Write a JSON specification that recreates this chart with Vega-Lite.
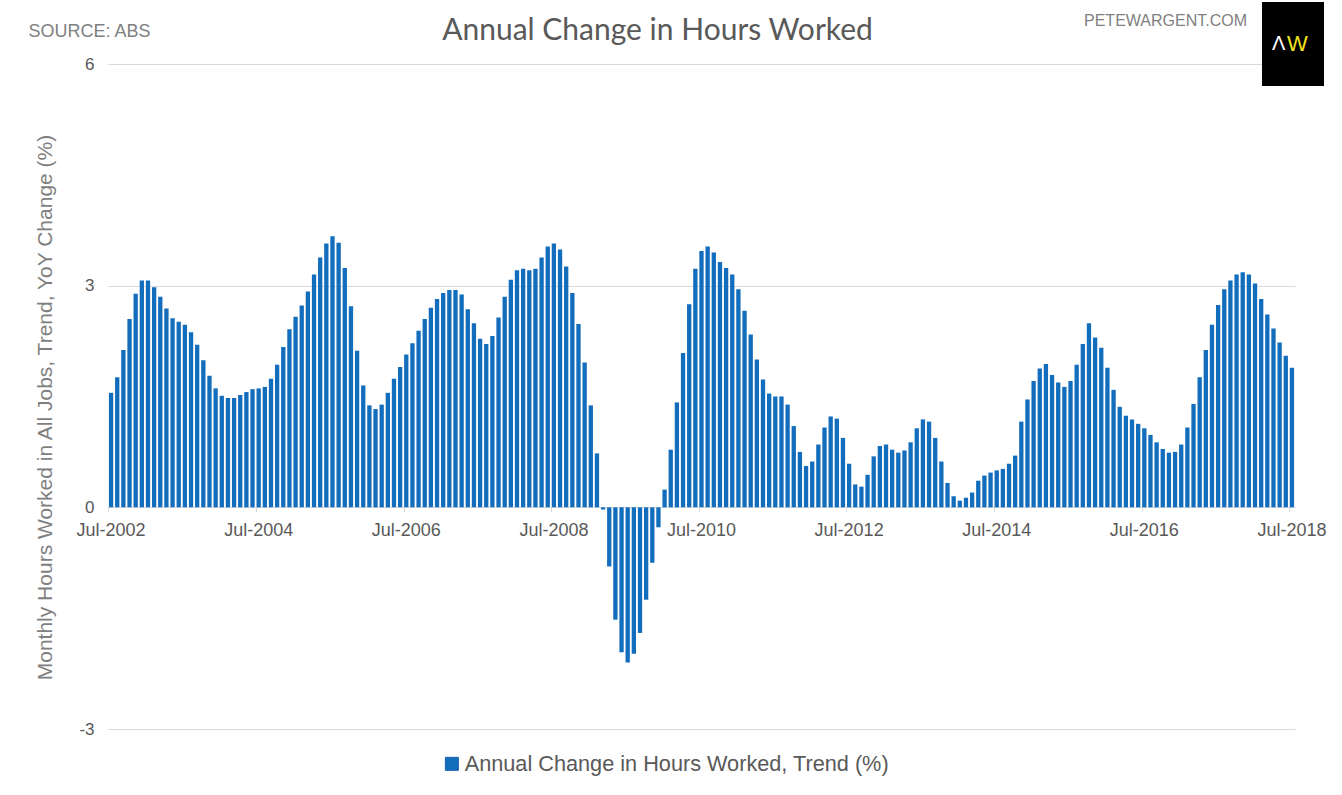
{
  "$schema": "https://vega.github.io/schema/vega-lite/v6.json",
  "width": 1187,
  "height": 665,
  "autosize": {"type": "none"},
  "padding": {"left": 108, "top": 64, "right": 47, "bottom": 66},
  "background": "#ffffff",
  "title": {
    "text": "Annual Change in Hours Worked",
    "font": "Lato",
    "fontSize": 30,
    "fontWeight": "normal",
    "color": "#595959",
    "anchor": "middle",
    "dx": -44,
    "dy": 48
  },
  "config": {
    "view": {"stroke": null},
    "font": "Liberation Sans"
  },
  "data": {
    "values": [
      {"m": "Jul-2002", "v": 1.55}, {"m": "Aug-2002", "v": 1.76}, {"m": "Sep-2002", "v": 2.13}, {"m": "Oct-2002", "v": 2.55}, {"m": "Nov-2002", "v": 2.89}, {"m": "Dec-2002", "v": 3.07},
      {"m": "Jan-2003", "v": 3.07}, {"m": "Feb-2003", "v": 2.98}, {"m": "Mar-2003", "v": 2.85}, {"m": "Apr-2003", "v": 2.69}, {"m": "May-2003", "v": 2.56}, {"m": "Jun-2003", "v": 2.51},
      {"m": "Jul-2003", "v": 2.47}, {"m": "Aug-2003", "v": 2.37}, {"m": "Sep-2003", "v": 2.2}, {"m": "Oct-2003", "v": 1.99}, {"m": "Nov-2003", "v": 1.78}, {"m": "Dec-2003", "v": 1.61},
      {"m": "Jan-2004", "v": 1.51}, {"m": "Feb-2004", "v": 1.48}, {"m": "Mar-2004", "v": 1.48}, {"m": "Apr-2004", "v": 1.52}, {"m": "May-2004", "v": 1.56}, {"m": "Jun-2004", "v": 1.6},
      {"m": "Jul-2004", "v": 1.61}, {"m": "Aug-2004", "v": 1.63}, {"m": "Sep-2004", "v": 1.74}, {"m": "Oct-2004", "v": 1.93}, {"m": "Nov-2004", "v": 2.17}, {"m": "Dec-2004", "v": 2.41},
      {"m": "Jan-2005", "v": 2.58}, {"m": "Feb-2005", "v": 2.73}, {"m": "Mar-2005", "v": 2.92}, {"m": "Apr-2005", "v": 3.15}, {"m": "May-2005", "v": 3.38}, {"m": "Jun-2005", "v": 3.57},
      {"m": "Jul-2005", "v": 3.67}, {"m": "Aug-2005", "v": 3.58}, {"m": "Sep-2005", "v": 3.24}, {"m": "Oct-2005", "v": 2.72}, {"m": "Nov-2005", "v": 2.12}, {"m": "Dec-2005", "v": 1.65},
      {"m": "Jan-2006", "v": 1.38}, {"m": "Feb-2006", "v": 1.33}, {"m": "Mar-2006", "v": 1.39}, {"m": "Apr-2006", "v": 1.55}, {"m": "May-2006", "v": 1.74}, {"m": "Jun-2006", "v": 1.9},
      {"m": "Jul-2006", "v": 2.07}, {"m": "Aug-2006", "v": 2.22}, {"m": "Sep-2006", "v": 2.39}, {"m": "Oct-2006", "v": 2.55}, {"m": "Nov-2006", "v": 2.7}, {"m": "Dec-2006", "v": 2.82},
      {"m": "Jan-2007", "v": 2.9}, {"m": "Feb-2007", "v": 2.94}, {"m": "Mar-2007", "v": 2.94}, {"m": "Apr-2007", "v": 2.88}, {"m": "May-2007", "v": 2.68}, {"m": "Jun-2007", "v": 2.49},
      {"m": "Jul-2007", "v": 2.28}, {"m": "Aug-2007", "v": 2.21}, {"m": "Sep-2007", "v": 2.32}, {"m": "Oct-2007", "v": 2.57}, {"m": "Nov-2007", "v": 2.85}, {"m": "Dec-2007", "v": 3.08},
      {"m": "Jan-2008", "v": 3.21}, {"m": "Feb-2008", "v": 3.23}, {"m": "Mar-2008", "v": 3.21}, {"m": "Apr-2008", "v": 3.23}, {"m": "May-2008", "v": 3.38}, {"m": "Jun-2008", "v": 3.53},
      {"m": "Jul-2008", "v": 3.57}, {"m": "Aug-2008", "v": 3.49}, {"m": "Sep-2008", "v": 3.26}, {"m": "Oct-2008", "v": 2.9}, {"m": "Nov-2008", "v": 2.48}, {"m": "Dec-2008", "v": 1.96},
      {"m": "Jan-2009", "v": 1.38}, {"m": "Feb-2009", "v": 0.73}, {"m": "Mar-2009", "v": -0.03}, {"m": "Apr-2009", "v": -0.8}, {"m": "May-2009", "v": -1.52}, {"m": "Jun-2009", "v": -1.96},
      {"m": "Jul-2009", "v": -2.1}, {"m": "Aug-2009", "v": -1.98}, {"m": "Sep-2009", "v": -1.7}, {"m": "Oct-2009", "v": -1.25}, {"m": "Nov-2009", "v": -0.75}, {"m": "Dec-2009", "v": -0.27},
      {"m": "Jan-2010", "v": 0.24}, {"m": "Feb-2010", "v": 0.78}, {"m": "Mar-2010", "v": 1.42}, {"m": "Apr-2010", "v": 2.09}, {"m": "May-2010", "v": 2.75}, {"m": "Jun-2010", "v": 3.23},
      {"m": "Jul-2010", "v": 3.47}, {"m": "Aug-2010", "v": 3.53}, {"m": "Sep-2010", "v": 3.45}, {"m": "Oct-2010", "v": 3.32}, {"m": "Nov-2010", "v": 3.24}, {"m": "Dec-2010", "v": 3.15},
      {"m": "Jan-2011", "v": 2.95}, {"m": "Feb-2011", "v": 2.66}, {"m": "Mar-2011", "v": 2.34}, {"m": "Apr-2011", "v": 2.0}, {"m": "May-2011", "v": 1.73}, {"m": "Jun-2011", "v": 1.54},
      {"m": "Jul-2011", "v": 1.5}, {"m": "Aug-2011", "v": 1.5}, {"m": "Sep-2011", "v": 1.39}, {"m": "Oct-2011", "v": 1.1}, {"m": "Nov-2011", "v": 0.75}, {"m": "Dec-2011", "v": 0.56},
      {"m": "Jan-2012", "v": 0.62}, {"m": "Feb-2012", "v": 0.85}, {"m": "Mar-2012", "v": 1.08}, {"m": "Apr-2012", "v": 1.23}, {"m": "May-2012", "v": 1.2}, {"m": "Jun-2012", "v": 0.94},
      {"m": "Jul-2012", "v": 0.59}, {"m": "Aug-2012", "v": 0.31}, {"m": "Sep-2012", "v": 0.28}, {"m": "Oct-2012", "v": 0.44}, {"m": "Nov-2012", "v": 0.69}, {"m": "Dec-2012", "v": 0.83},
      {"m": "Jan-2013", "v": 0.85}, {"m": "Feb-2013", "v": 0.78}, {"m": "Mar-2013", "v": 0.74}, {"m": "Apr-2013", "v": 0.77}, {"m": "May-2013", "v": 0.88}, {"m": "Jun-2013", "v": 1.07},
      {"m": "Jul-2013", "v": 1.19}, {"m": "Aug-2013", "v": 1.16}, {"m": "Sep-2013", "v": 0.94}, {"m": "Oct-2013", "v": 0.62}, {"m": "Nov-2013", "v": 0.33}, {"m": "Dec-2013", "v": 0.15},
      {"m": "Jan-2014", "v": 0.09}, {"m": "Feb-2014", "v": 0.13}, {"m": "Mar-2014", "v": 0.2}, {"m": "Apr-2014", "v": 0.36}, {"m": "May-2014", "v": 0.43}, {"m": "Jun-2014", "v": 0.47},
      {"m": "Jul-2014", "v": 0.5}, {"m": "Aug-2014", "v": 0.52}, {"m": "Sep-2014", "v": 0.59}, {"m": "Oct-2014", "v": 0.7}, {"m": "Nov-2014", "v": 1.16}, {"m": "Dec-2014", "v": 1.46},
      {"m": "Jan-2015", "v": 1.71}, {"m": "Feb-2015", "v": 1.88}, {"m": "Mar-2015", "v": 1.94}, {"m": "Apr-2015", "v": 1.79}, {"m": "May-2015", "v": 1.69}, {"m": "Jun-2015", "v": 1.63},
      {"m": "Jul-2015", "v": 1.71}, {"m": "Aug-2015", "v": 1.93}, {"m": "Sep-2015", "v": 2.21}, {"m": "Oct-2015", "v": 2.49}, {"m": "Nov-2015", "v": 2.3}, {"m": "Dec-2015", "v": 2.16},
      {"m": "Jan-2016", "v": 1.89}, {"m": "Feb-2016", "v": 1.59}, {"m": "Mar-2016", "v": 1.36}, {"m": "Apr-2016", "v": 1.24}, {"m": "May-2016", "v": 1.19}, {"m": "Jun-2016", "v": 1.13},
      {"m": "Jul-2016", "v": 1.07}, {"m": "Aug-2016", "v": 0.98}, {"m": "Sep-2016", "v": 0.88}, {"m": "Oct-2016", "v": 0.79}, {"m": "Nov-2016", "v": 0.74}, {"m": "Dec-2016", "v": 0.75},
      {"m": "Jan-2017", "v": 0.85}, {"m": "Feb-2017", "v": 1.08}, {"m": "Mar-2017", "v": 1.4}, {"m": "Apr-2017", "v": 1.76}, {"m": "May-2017", "v": 2.13}, {"m": "Jun-2017", "v": 2.47},
      {"m": "Jul-2017", "v": 2.74}, {"m": "Aug-2017", "v": 2.95}, {"m": "Sep-2017", "v": 3.07}, {"m": "Oct-2017", "v": 3.15}, {"m": "Nov-2017", "v": 3.18}, {"m": "Dec-2017", "v": 3.15},
      {"m": "Jan-2018", "v": 3.03}, {"m": "Feb-2018", "v": 2.82}, {"m": "Mar-2018", "v": 2.61}, {"m": "Apr-2018", "v": 2.42}, {"m": "May-2018", "v": 2.23}, {"m": "Jun-2018", "v": 2.05},
      {"m": "Jul-2018", "v": 1.89}
    ]
  },
  "resolve": {"axis": {"x": "independent", "y": "independent"}},
  "layer": [
    {
      "mark": {"type": "bar", "fill": "#126dbd"},
      "encoding": {
        "x": {
          "field": "m",
          "type": "nominal",
          "sort": null,
          "scale": {"paddingInner": 0.3, "paddingOuter": 0.15},
          "axis": {
            "orient": "bottom",
            "offset": -222,
            "title": null,
            "values": ["Jul-2002", "Jul-2004", "Jul-2006", "Jul-2008", "Jul-2010", "Jul-2012", "Jul-2014", "Jul-2016", "Jul-2018"],
            "bandPosition": 0,
            "labelAngle": 0,
            "labelFontSize": 18,
            "labelColor": "#595959",
            "labelPadding": 9,
            "tickColor": "#d9d9d9",
            "tickSize": 5,
            "domainColor": "#d9d9d9",
            "grid": false
          }
        },
        "y": {
          "field": "v",
          "type": "quantitative",
          "scale": {"domain": [-3, 6], "nice": false},
          "axis": {
            "values": [-3, 0, 3, 6],
            "labelExpr": "replace(datum.label, '−', '-')",
            "title": "Monthly Hours Worked in All Jobs, Trend, YoY Change (%)",
            "titleFontSize": 21,
            "titleFontWeight": "normal",
            "titleColor": "#7f7f7f",
            "titlePadding": 23,
            "titleY": 343,
            "labelFontSize": 17,
            "labelColor": "#595959",
            "labelPadding": 14,
            "ticks": false,
            "domain": false,
            "grid": true,
            "gridColor": "#d9d9d9"
          }
        },
        "color": {
          "datum": "Annual Change in Hours Worked, Trend (%)",
          "scale": {"range": ["#126dbd"]},
          "legend": {
            "title": null,
            "orient": "none",
            "legendX": 333,
            "legendY": 689,
            "padding": 0,
            "symbolType": "square",
            "symbolSize": 169,
            "symbolStrokeColor": "#1f5fae",
            "symbolStrokeWidth": 1,
            "labelFontSize": 21.7,
            "labelColor": "#595959",
            "labelOffset": 2,
            "labelLimit": 600
          }
        }
      }
    },
    {
      "mark": {"type": "point", "filled": true, "size": 0, "color": "#000000", "opacity": 1},
      "encoding": {
        "x": {
          "field": "m",
          "type": "nominal",
          "sort": null,
          "axis": {
            "orient": "top",
            "labels": false,
            "ticks": false,
            "domain": false,
            "grid": false,
            "title": "SOURCE: ABS",
            "titleFontSize": 18,
            "titleFontWeight": "normal",
            "titleColor": "#7f7f7f",
            "titleX": -19,
            "titleY": -28,
            "titleAlign": "center",
            "titleBaseline": "alphabetic"
          }
        },
        "y": {
          "field": "v",
          "type": "quantitative",
          "axis": {
            "orient": "right",
            "labels": false,
            "ticks": false,
            "domain": false,
            "grid": false,
            "title": "PETEWARGENT.COM",
            "titleFontSize": 16,
            "titleFontWeight": "normal",
            "titleColor": "#7f7f7f",
            "titleAngle": 0,
            "titleX": -130,
            "titleY": -39,
            "titleAlign": "center",
            "titleBaseline": "alphabetic"
          }
        },
        "shape": {
          "datum": "W",
          "scale": {"range": ["M-0.738,-1H0.738V1H-0.738Z"]},
          "legend": {
            "orient": "none",
            "legendX": 1164,
            "legendY": -62,
            "padding": 0,
            "title": "Λ",
            "titleOrient": "left",
            "titleAnchor": "middle",
            "titleBaseline": "middle",
            "titleFontSize": 20,
            "titleFontWeight": "normal",
            "titleColor": "#ffffff",
            "titlePadding": -35,
            "symbolSize": 7056,
            "symbolOpacity": 1,
            "symbolFillColor": "#000000",
            "symbolStrokeWidth": 0,
            "labelFontSize": 22,
            "labelColor": "#f0e31c",
            "labelOffset": -48
          }
        }
      }
    }
  ]
}
